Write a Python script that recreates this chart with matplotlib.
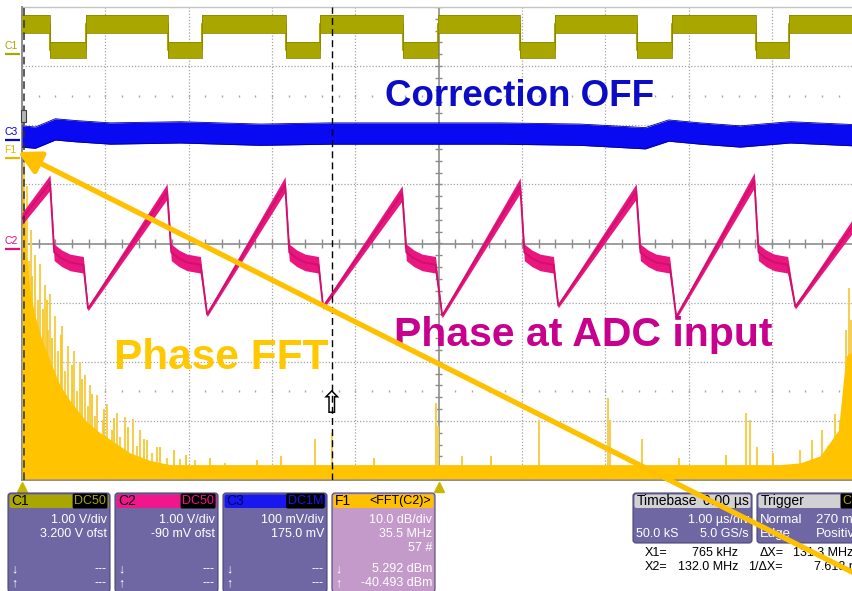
import matplotlib
matplotlib.use("Agg")
import matplotlib.pyplot as plt
import numpy as np
from matplotlib.patches import FancyBboxPatch, Rectangle

plt.rcParams['font.family'] = ['Liberation Sans', 'DejaVu Sans']

# --- channel settings (from the info panels) ---
c1_vdiv, c1_ofst = 1.00, 3.200      # V/div, V
c2_vdiv, c2_ofst = 1.00, -0.090
c3_vdiv, c3_ofst = 0.100, 0.175
fft_mhz_per_div = 35.5
f1_marker_div = 1.44
cursor_x1_mhz = 0.765
cursor_x2_mhz = 132.0

# --- C1: pulse train, screen divisions vs time (us) ---
c1_fall_us = [0.336, 1.753, 3.170, 4.574, 5.978, 7.383, 8.812]
c1_rise_us = [0.768, 2.161, 3.577, 4.994, 6.399, 7.803, 9.208]
c1_high_div = 3.71
c1_low_div = 3.27

# --- C3: correction signal (flat, slight wander) ---
c3_us = [0.0, 0.16, 0.40, 0.64, 1.06, 1.90, 2.86, 3.70, 4.78, 5.74, 6.70, 7.48, 7.76, 8.14, 8.62, 9.22, 10.0]
c3_div = [1.81, 1.79, 1.93, 1.90, 1.86, 1.88, 1.84, 1.86, 1.86, 1.86, 1.84, 1.78, 1.91, 1.86, 1.81, 1.88, 1.83]

# --- C2: phase at ADC input (sawtooth) ---
c2_start_div = 0.42
c2_end_div = 0.36
c2_peak_us = [0.336, 1.741, 3.157, 4.562, 5.978, 7.371, 8.788]
c2_peak_div = [1.03, 0.88, 1.00, 0.85, 0.98, 0.88, 1.07]
c2_min_us = [0.792, 2.221, 3.613, 5.042, 6.435, 7.851, 9.280]
c2_min_div = [-1.10, -1.20, -1.07, -1.22, -1.05, -1.24, -1.07]
c2_plateau_dt = [0.05, 0.14, 0.24, 0.40]
c2_plateau_div = [-0.15, -0.25, -0.32, -0.36]

# --- F1: FFT(C2), frequency (MHz) vs screen divisions ---
fft_env_mhz = [0.0, 0.85, 1.70, 3.41, 5.54, 8.52, 11.9, 16.2, 20.5, 26.9, 33.2, 39.6,
               46.0, 54.6, 63.1, 75.9, 92.9, 323.1, 331.6, 340.1, 347.8, 349.9, 351.2, 355.0]
fft_env_div = [1.32, 0.73, -0.12, -0.80, -1.22, -1.64, -1.98, -2.40, -2.66, -2.99, -3.20, -3.37,
               -3.54, -3.67, -3.74, -3.74, -3.74, -3.74, -3.71, -3.59, -3.16, -2.32, -1.90, -1.78]
fft_spike_mhz = [0.85, 2.13, 2.98, 3.84, 5.54, 6.82, 7.67, 9.80, 11.1, 11.9,
                 14.1, 15.3, 17.0, 18.3, 19.6, 22.2, 23.4, 24.7, 26.9, 28.1,
                 29.0, 31.1, 32.0, 34.5, 36.2, 38.4, 40.5, 41.8, 43.9, 47.3,
                 49.0, 50.3, 53.3, 55.4, 57.5, 61.8, 67.3, 73.7, 86.5, 124.9,
                 132.1, 176.4, 177.3, 187.5, 220.3, 249.7, 250.6, 264.2, 308.6, 310.3,
                 313.3, 331.6, 336.7, 341.0, 343.5, 346.5, 348.6, 351.2, 352.5, 353.3]
fft_spike_div = [1.40, 0.98, -0.29, 0.22, -0.20, -0.96, -0.34, -0.71, -1.47, -0.85,
                 -1.22, -1.81, -1.39, -2.15, -1.73, -1.81, -2.49, -2.01, -2.23, -2.74,
                 -2.40, -2.91, -2.57, -2.99, -2.71, -3.16, -2.86, -3.28, -2.93, -2.96,
                 -3.42, -3.16, -3.33, -3.54, -3.45, -3.62, -3.64, -3.67, -3.71, -3.30,
                 -3.21, -2.69, -3.08, -3.59, -2.99, -2.62, -2.99, -3.30, -2.86, -2.99,
                 -3.45, -3.50, -3.33, -3.16, -3.42, -2.88, -2.99, -1.47, -0.76, -1.30]
# smaller bins sticking out of the dense part and the noise floor
fft_minor_mhz = [1.28, 4.26, 8.9, 10.5, 12.8, 16.6, 21.3, 25.6, 30.0, 35.0, 39.0, 45.0,
                 52.0, 59.0, 64.9, 70.0, 80.0, 100.0, 110.5, 150.0, 200.0, 280.0, 300.0, 320.0]
fft_minor_div = [0.50, -0.55, -1.10, -0.95, -1.60, -1.55, -2.05, -2.30, -2.55, -2.80, -2.95, -3.10,
                 -3.30, -3.45, -3.50, -3.58, -3.62, -3.66, -3.60, -3.62, -3.60, -3.62, -3.58, -3.55]
fft_floor_div = -3.98

W, H = 853, 591
fig = plt.figure(figsize=(W / 100, H / 100), dpi=100)
ax = fig.add_axes([22 / W, (H - 480) / H, 833.3 / W, 473 / H])
ax.set_xlim(0, 10)
ax.set_ylim(-4, 4)
ax.set_xticks([])
ax.set_yticks([])
for s in ax.spines.values():
    s.set_visible(False)

# graticule
grid_col = '#a4a4a4'
for i in range(1, 10):
    if i != 5:
        ax.axvline(i, color=grid_col, lw=0.9, ls=(0, (1, 1.5)), zorder=0)
for j in range(-3, 4):
    if j != 0:
        ax.axhline(j, color=grid_col, lw=0.9, ls=(0, (1, 1.5)), zorder=0)
ax.axvline(5, color='#8c8c8c', lw=1.2, zorder=0)
ax.axhline(0, color='#8c8c8c', lw=1.2, zorder=0)
tx = np.arange(0, 10.01, 0.2)
ty = np.arange(-4, 4.01, 0.2)
ax.vlines(tx, -0.07, 0.07, color='#8c8c8c', lw=1, zorder=0)
ax.hlines(ty, 4.955, 5.045, color='#8c8c8c', lw=1, zorder=0)
for yr in (2.5, -2.5):
    ax.vlines(tx[1:], yr - 0.02, yr + 0.02, color=grid_col, lw=1, zorder=0)
ax.axhline(4, color='#c4c4c4', lw=1, clip_on=False, zorder=0)
ax.axhline(-4, color='#8c8c8c', lw=1.4, clip_on=False, zorder=0)
ax.axvline(0, color='#8c8c8c', lw=1.4, clip_on=False, zorder=0)

# C1 pulse train
c1_x, c1_y = [0.0], [c1_high_div]
for f, r in zip(c1_fall_us, c1_rise_us):
    c1_x += [f, f, r, r]
    c1_y += [c1_high_div, c1_low_div, c1_low_div, c1_high_div]
c1_x.append(10.0)
c1_y.append(c1_high_div)
c1_x, c1_y = np.array(c1_x), np.array(c1_y)
c1_hw = np.where(c1_y == c1_high_div, 0.15, 0.135)
ax.fill_between(c1_x, c1_y - c1_hw, c1_y + c1_hw, color='#a9a600', lw=0, zorder=3)
ax.plot(c1_x, c1_y, color='#a9a600', lw=1.5, zorder=3)
ax.plot(c1_x, c1_y + c1_hw, color='#8a8800', lw=0.6, zorder=3)
ax.plot(c1_x, c1_y - c1_hw, color='#8a8800', lw=0.6, zorder=3)

# C3
c3_x, c3_y = np.array(c3_us), np.array(c3_div)
ax.fill_between(c3_x, c3_y - 0.18, c3_y + 0.18, color='#0a0af2', lw=0, zorder=3)
ax.plot(c3_x, c3_y + 0.18, color='#00009a', lw=0.6, zorder=3)
ax.plot(c3_x, c3_y - 0.18, color='#00009a', lw=0.6, zorder=3)

# F1 (FFT of C2)
fx = np.array(fft_env_mhz) / fft_mhz_per_div
ax.vlines(np.array(fft_spike_mhz) / fft_mhz_per_div, fft_floor_div, fft_spike_div,
          color='#f5cf55', lw=1.5, zorder=2)
ax.vlines(np.array(fft_minor_mhz) / fft_mhz_per_div, fft_floor_div, fft_minor_div,
          color='#f8c820', lw=1.3, zorder=2)
ax.fill_between(fx, fft_floor_div, fft_env_div, color='#ffc300', lw=0, zorder=2)

# C2 sawtooth
c2_x, c2_y, c2_hw = [0.0], [c2_start_div], [0.10]
for p, pd, m, md in zip(c2_peak_us, c2_peak_div, c2_min_us, c2_min_div):
    c2_x.append(p); c2_y.append(pd); c2_hw.append(0.13)
    for dt, lev in zip(c2_plateau_dt, c2_plateau_div):
        c2_x.append(p + dt); c2_y.append(lev); c2_hw.append(0.14)
    c2_x.append(m); c2_y.append(md); c2_hw.append(0.04)
c2_x.append(10.0); c2_y.append(c2_end_div); c2_hw.append(0.12)
c2_x, c2_y, c2_hw = np.array(c2_x), np.array(c2_y), np.array(c2_hw)
ax.fill_between(c2_x, c2_y - c2_hw, c2_y + c2_hw, color='#e8167e', lw=0, zorder=4)
ax.plot(c2_x, c2_y, color='#d0106c', lw=1.3, zorder=4)

# cursors
ax.axvline(cursor_x1_mhz / fft_mhz_per_div, color='#303030', lw=1.1, ls=(0, (5, 3)), zorder=5)
ax.axvline(cursor_x2_mhz / fft_mhz_per_div, color='black', lw=1.0, ls=(0, (5, 3)), zorder=5)
ax.text(cursor_x2_mhz / fft_mhz_per_div, -2.72, '\u21e7', family='DejaVu Sans', fontsize=22,
        ha='center', va='center', color='black', zorder=6)

# trigger position markers
ax.plot([0, 5], [-4.11, -4.11], ls='', marker='^', ms=7, color='#c9b600', clip_on=False, zorder=6)

# channel ground markers
markers = [('C1', c1_ofst / c1_vdiv, '#a9a600'), ('C3', c3_ofst / c3_vdiv, '#0000e0'),
           ('F1', f1_marker_div, '#e8b800'), ('C2', c2_ofst / c2_vdiv, '#e0107a')]
for lab, g, col in markers:
    ax.plot([-0.21, -0.03], [g, g], color=col, lw=1.6, clip_on=False, solid_capstyle='butt')
    ax.text(-0.21, g + 0.05, lab, color=col, fontsize=7.5, ha='left', va='bottom', clip_on=False)

# overlay in pixel units for panels and notes
ov = fig.add_axes([0, 0, 1, 1], zorder=5)
ov.set_xlim(0, W)
ov.set_ylim(H, 0)
ov.axis('off')
ov.patch.set_alpha(0)

ov.add_patch(Rectangle((21, 110), 5, 12, fc='#b4b4b4', ec='#404040', lw=0.8))

body_col = '#6e67a3'
fs = 9


def panel(x0, x1, y0, y1, head_col, body):
    ov.add_patch(FancyBboxPatch((x0, y0), x1 - x0, y1 - y0, boxstyle='round,pad=0,rounding_size=3',
                                fc=body, ec='#4c4674', lw=0.8))
    ov.add_patch(FancyBboxPatch((x0 + 1.5, y0 + 1.5), x1 - x0 - 3, 13.5,
                                boxstyle='round,pad=0,rounding_size=2', fc=head_col, ec='none'))


chan_panels = [
    (8, 110, 'C1', 'DC50', '#a9a600', body_col, ['1.00 V/div', '3.200 V ofst', ''], ['---', '---']),
    (115, 218, 'C2', 'DC50', '#f0168c', body_col, ['1.00 V/div', '-90 mV ofst', ''], ['---', '---']),
    (223, 327, 'C3', 'DC1M', '#1818ee', body_col, ['100 mV/div', '175.0 mV', ''], ['---', '---']),
    (332, 435, 'F1', '<FFT(C2)>', '#ffc000', '#c39ac9', ['10.0 dB/div', '35.5 MHz', '57 #'],
     ['5.292 dBm', '-40.493 dBm']),
]
for x0, x1, name, tag, hcol, bcol, rows, meas in chan_panels:
    panel(x0, x1, 493, 592, hcol, bcol)
    name_col = '#000060' if name == 'C3' else 'black'
    ov.text(x0 + 3, 501, name, fontsize=10, color=name_col, ha='left', va='center')
    if name == 'F1':
        ov.text(x1 - 4, 501, tag, fontsize=fs, color='black', ha='right', va='center')
    else:
        ov.text(x1 - 4, 501, tag, fontsize=fs, color=hcol, ha='right', va='center',
                bbox=dict(boxstyle='round,pad=0.12', fc='black', ec='none'))
    for k, r in enumerate(rows):
        ov.text(x1 - 3, 520 + 14 * k, r, fontsize=fs, color='white', ha='right', va='center')
    ov.text(x0 + 3, 569, '\u2193', fontsize=fs, color='white', ha='left', va='center')
    ov.text(x0 + 3, 583, '\u2191', fontsize=fs, color='white', ha='left', va='center')
    ov.text(x1 - 3, 569, meas[0], fontsize=fs, color='white', ha='right', va='center')
    ov.text(x1 - 3, 583, meas[1], fontsize=fs, color='white', ha='right', va='center')

# timebase / trigger
panel(633, 752, 493, 543, '#d2d2d2', body_col)
ov.text(637, 501, 'Timebase', fontsize=fs + 1, color='black', ha='left', va='center')
ov.text(749, 501, '0.00 \u00b5s', fontsize=fs + 1, color='black', ha='right', va='center')
ov.text(749, 520, '1.00 \u00b5s/div', fontsize=fs, color='white', ha='right', va='center')
ov.text(636, 534, '50.0 kS', fontsize=fs, color='white', ha='left', va='center')
ov.text(749, 534, '5.0 GS/s', fontsize=fs, color='white', ha='right', va='center')

panel(757, 866, 493, 543, '#d2d2d2', body_col)
ov.text(761, 501, 'Trigger', fontsize=fs + 1, color='black', ha='left', va='center')
ov.text(842, 501, 'C1', fontsize=fs, color='#a9a600', ha='left', va='center',
        bbox=dict(boxstyle='round,pad=0.12', fc='black', ec='none'))
ov.text(760, 520, 'Normal', fontsize=fs + 0.5, color='white', ha='left', va='center')
ov.text(862, 520, '270 mV', fontsize=fs + 0.5, color='white', ha='right', va='center')
ov.text(760, 534, 'Edge', fontsize=fs + 0.5, color='white', ha='left', va='center')
ov.text(862, 534, 'Positive', fontsize=fs + 0.5, color='white', ha='right', va='center')

# cursor readouts
ov.text(645, 553, 'X1=', fontsize=fs, ha='left', va='center')
ov.text(738, 553, '765 kHz', fontsize=fs, ha='right', va='center')
ov.text(760, 553, '\u0394X=', fontsize=fs, ha='left', va='center')
ov.text(853, 553, '131.3 MHz', fontsize=fs, ha='right', va='center')
ov.text(645, 567, 'X2=', fontsize=fs, ha='left', va='center')
ov.text(738, 567, '132.0 MHz', fontsize=fs, ha='right', va='center')
ov.text(748, 567, '1/\u0394X=', fontsize=fs, ha='left', va='center')
ov.text(862, 567, '7.618 ns', fontsize=fs, ha='right', va='center')

# notes
ov.text(520, 97, 'Correction OFF', fontsize=26.5, fontweight='bold', color='#0c0cc6',
        ha='center', va='center')
ov.text(583, 335, 'Phase at ADC input', fontsize=29.5, fontweight='bold', color='#c8008e',
        ha='center', va='center')
ov.text(221, 358, 'Phase FFT', fontsize=30.5, fontweight='bold', color='#ffc800',
        ha='center', va='center')

ov.annotate('', xy=(18, 152), xytext=(858, 575),
            arrowprops=dict(arrowstyle='-|>,head_length=0.6,head_width=0.32', lw=3.8,
                            color='#ffc000', mutation_scale=22, shrinkA=0, shrinkB=0))

fig.savefig('out.png', dpi=100)
